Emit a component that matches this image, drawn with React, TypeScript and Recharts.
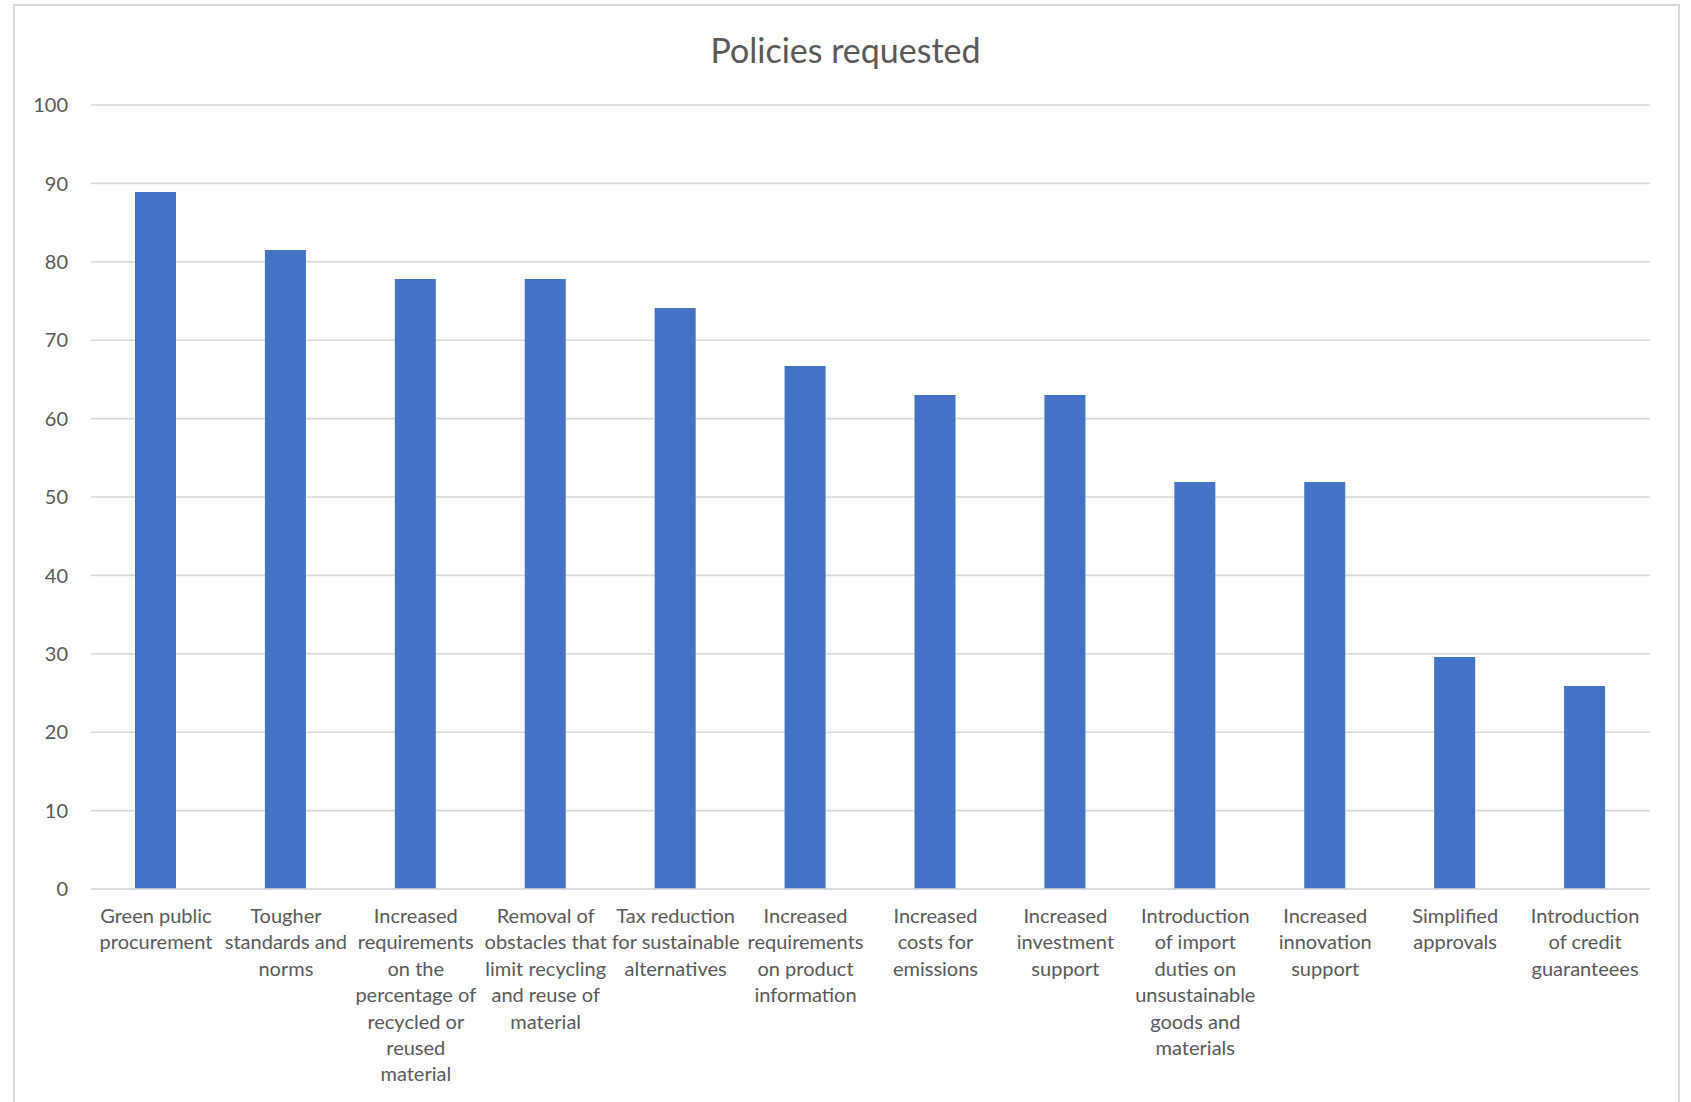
import { BarChart, Bar, XAxis, YAxis, CartesianGrid } from "recharts";

const CATEGORIES = [
  "Green public\nprocurement",
  "Tougher\nstandards and\nnorms",
  "Increased\nrequirements\non the\npercentage of\nrecycled or\nreused\nmaterial",
  "Removal of\nobstacles that\nlimit recycling\nand reuse of\nmaterial",
  "Tax reduction\nfor sustainable\nalternatives",
  "Increased\nrequirements\non product\ninformation",
  "Increased\ncosts for\nemissions",
  "Increased\ninvestment\nsupport",
  "Introduction\nof import\nduties on\nunsustainable\ngoods and\nmaterials",
  "Increased\ninnovation\nsupport",
  "Simplified\napprovals",
  "Introduction\nof credit\nguaranteees",
];

const VALUES = [88.9, 81.5, 77.8, 77.8, 74.1, 66.7, 63.0, 63.0, 51.9, 51.9, 29.6, 25.9];

const Y_TICKS = [0, 10, 20, 30, 40, 50, 60, 70, 80, 90, 100];

const data = CATEGORIES.map((name, i) => ({ name, value: VALUES[i] }));

const FONT = "Lato, 'Open Sans', sans-serif";
const GREY = "#595959";

function WrappedTick(props: any) {
  const { x, y, payload } = props;
  const lines = String(payload.value).split("\n");
  return (
    <text x={x} y={y} textAnchor="middle" fill={GREY} fontSize={20} fontFamily={FONT}>
      {lines.map((line, i) => (
        <tspan key={i} x={x} dy={i === 0 ? 28 : 26.4}>
          {line}
        </tspan>
      ))}
    </text>
  );
}

export default function App() {
  return (
    <div
      style={{
        position: "absolute",
        left: 0,
        top: 0,
        width: 1691,
        height: 1102,
        overflow: "hidden",
        background: "#fff",
      }}
    >
      {/* chart frame */}
      <div
        style={{
          position: "absolute",
          left: 13,
          top: 4,
          width: 1667,
          height: 1120,
          border: "2px solid #d9d9d9",
          boxSizing: "border-box",
        }}
      />
      <div
        style={{
          position: "absolute",
          left: 0,
          width: 1691,
          top: 29,
          textAlign: "center",
          fontFamily: FONT,
          fontSize: 34,
          color: GREY,
        }}
      >
        Policies requested
      </div>
      <div style={{ position: "absolute", left: 0, top: 0 }}>
        <BarChart
          width={1691}
          height={1102}
          data={data}
          margin={{ top: 105, right: 41, bottom: 0, left: 31 }}
          barCategoryGap={0}
        >
          <CartesianGrid vertical={false} stroke="#d9d9d9" strokeWidth={1.6} />
          <XAxis
            dataKey="name"
            interval={0}
            tickLine={false}
            axisLine={{ stroke: "#d9d9d9", strokeWidth: 1.6 }}
            tick={<WrappedTick />}
            tickMargin={0}
            height={213}
          />
          <YAxis
            width={60}
            domain={[0, 100]}
            ticks={Y_TICKS}
            tickLine={false}
            axisLine={false}
            tickMargin={17}
            tick={{ fill: GREY, fontSize: 20, fontFamily: FONT }}
          />
          <Bar dataKey="value" fill="#4472C4" barSize={41} isAnimationActive={false} />
        </BarChart>
      </div>
    </div>
  );
}
